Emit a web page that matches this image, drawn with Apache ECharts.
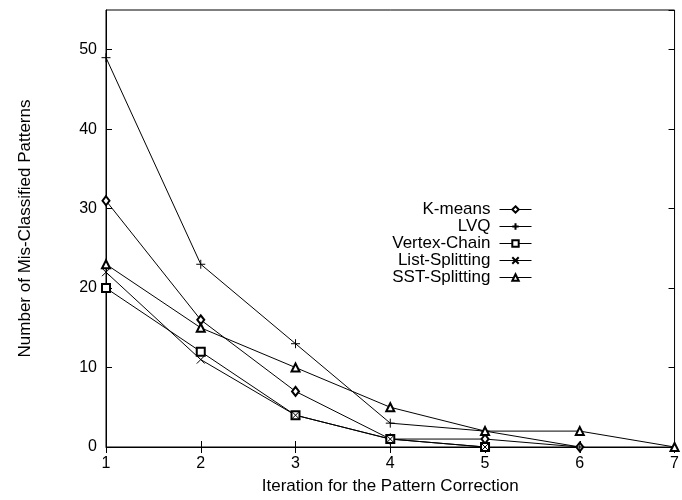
<!DOCTYPE html>
<html>
<head>
<meta charset="utf-8">
<script src="https://cdn.jsdelivr.net/npm/echarts@6/dist/echarts.min.js"></script>
<style>
  html, body { margin: 0; padding: 0; background: #fff; }
  #chart { width: 682px; height: 500px; }
</style>
</head>
<body>
<div id="chart"></div>
<script>
  // values; each method stops once it reaches 0
  var iterations = [1, 2, 3, 4, 5, 6, 7];
  var kMeans = [31, 16, 7, 1, 1, 0];
  var lvq = [49, 23, 13, 3, 2, 0];
  var vertexChain = [20, 12, 4, 1, 0];
  var listSplitting = [22, 11, 4, 1, 0];
  var sstSplitting = [23, 15, 10, 5, 2, 2, 0];
  var yTicks = [0, 10, 20, 30, 40, 50];

  var font = 'Liberation Sans';
  var plusPath = 'path://M0,5L10,5M5,0L5,10';
  var crossPath = 'path://M0,0L10,10M10,0L0,10';

  function pairs(vals) {
    return vals.map(function (v, i) { return [iterations[i], v]; });
  }

  var defs = [
    { name: 'K-means', data: kMeans, symbol: 'emptyDiamond', size: [7, 9] },
    { name: 'LVQ', data: lvq, symbol: plusPath, size: 9 },
    { name: 'Vertex-Chain', data: vertexChain, symbol: 'emptyRect', size: 8 },
    { name: 'List-Splitting', data: listSplitting, symbol: crossPath, size: 8 },
    { name: 'SST-Splitting', data: sstSplitting, symbol: 'emptyTriangle', size: 8 }
  ];

  var series = defs.map(function (d) {
    return {
      name: d.name,
      type: 'line',
      data: pairs(d.data),
      symbol: d.symbol,
      symbolSize: d.size,
      showAllSymbol: true,
      clip: false,
      lineStyle: { color: '#000', width: 1 },
      itemStyle: { color: '#000', borderColor: '#000', borderWidth: 1 },
      emphasis: { disabled: true },
      animation: false
    };
  });

  // one legend per row so the samples line up on the right
  var legends = defs.map(function (d, i) {
    return {
      data: [d.name],
      right: 150,
      top: 201 + i * 17,
      align: 'right',
      itemWidth: 32,
      itemHeight: 8,
      itemGap: 0,
      padding: 0,
      selectedMode: false,
      lineStyle: { width: 1 },
      textStyle: { fontFamily: font, fontSize: 17, color: '#000', padding: [0, 4, 0, 0] }
    };
  });

  var tickStyle = { show: true, inside: true, length: 6, lineStyle: { color: '#000' } };

  var chart = echarts.init(document.getElementById('chart'));
  chart.setOption({
    backgroundColor: '#fff',
    animation: false,
    grid: {
      left: 106, right: 1, top: 10, bottom: 50,
      show: true, borderColor: '#000', borderWidth: 1
    },
    legend: legends,
    xAxis: [{
      type: 'value',
      min: 1, max: 7, interval: 1,
      name: 'Iteration for the Pattern Correction',
      nameLocation: 'middle',
      nameGap: 31,
      nameTextStyle: { fontFamily: font, fontSize: 17, color: '#000' },
      axisLine: { show: true, lineStyle: { color: '#000' } },
      axisTick: tickStyle,
      splitLine: { show: false },
      axisLabel: { fontFamily: font, fontSize: 16, color: '#000', margin: 9 }
    }, {
      type: 'value',
      position: 'top',
      min: 1, max: 7, interval: 1,
      axisLine: { show: false },
      axisTick: tickStyle,
      splitLine: { show: false },
      axisLabel: { show: false }
    }],
    yAxis: [{
      type: 'value',
      min: 0, max: 55, interval: 10,
      name: 'Number of Mis-Classified Patterns',
      nameLocation: 'middle',
      nameGap: 72,
      nameTextStyle: { fontFamily: font, fontSize: 17, color: '#000' },
      axisLine: { show: true, lineStyle: { color: '#000' } },
      axisTick: tickStyle,
      splitLine: { show: false },
      axisLabel: {
        fontFamily: font, fontSize: 16, color: '#000', margin: 9,
        showMaxLabel: false,
        formatter: function (v) { return yTicks.indexOf(v) >= 0 ? String(v) : ''; }
      }
    }, {
      type: 'value',
      position: 'right',
      min: 0, max: 55, interval: 10,
      axisLine: { show: false },
      axisTick: tickStyle,
      splitLine: { show: false },
      axisLabel: { show: false }
    }],
    series: series
  });
</script>
</body>
</html>
